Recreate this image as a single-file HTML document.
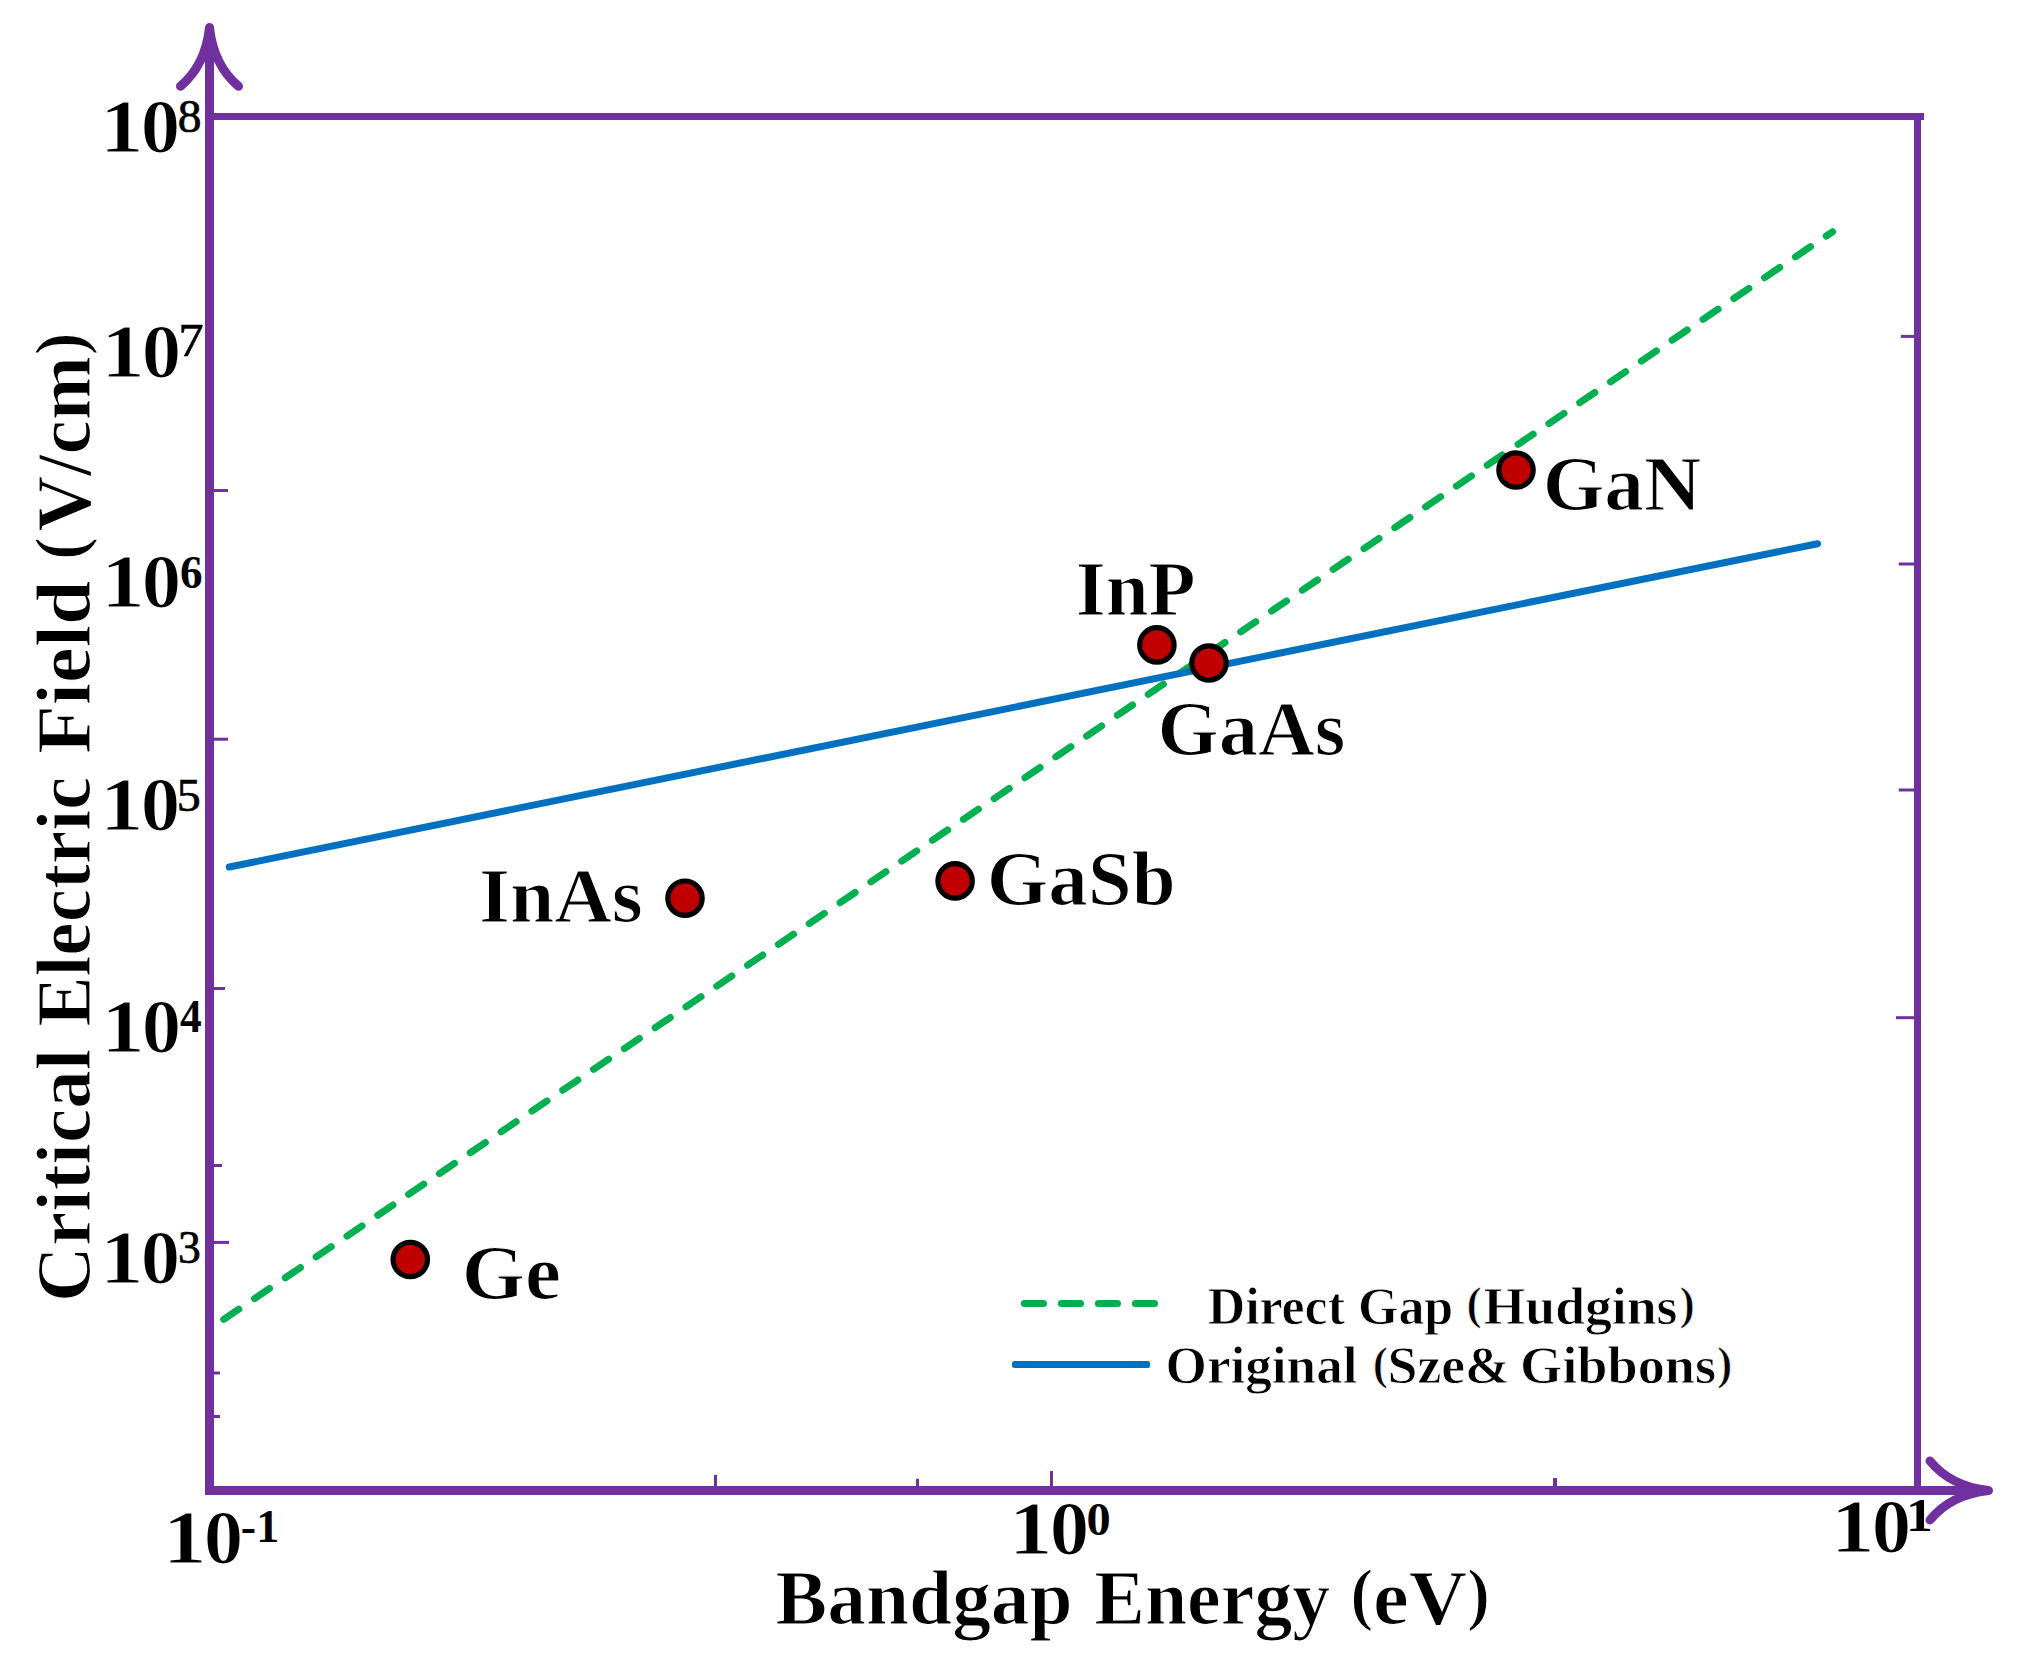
<!DOCTYPE html>
<html lang="en"><head><meta charset="utf-8"><title>Critical Electric Field vs Bandgap Energy</title>
<style>html,body{margin:0;padding:0;background:#fff}svg{display:block}text{font-family:"Liberation Serif","DejaVu Serif",serif;fill:#000}.b{font-weight:bold}.n{font-weight:normal}</style></head><body>
<svg width="2021" height="1664" viewBox="0 0 2021 1664">
<rect width="2021" height="1664" fill="#fff"/>
<g stroke="#7030A0" fill="none">
<line x1="209" y1="116.4" x2="1924" y2="116.4" stroke-width="7"/>
<line x1="1917.5" y1="116" x2="1917.5" y2="1490" stroke-width="7"/>
<line x1="209.5" y1="27.5" x2="209.5" y2="1495" stroke-width="9" stroke-linecap="butt"/>
<line x1="205" y1="1490.5" x2="1988.5" y2="1490.5" stroke-width="9"/>
<path d="M180.5 86.3 Q205.5 65 209.5 27.5 Q213.5 65 238.5 86.3" stroke-width="9" stroke-linecap="round" stroke-linejoin="round"/>
<path d="M1930 1461 Q1951 1486.5 1988.5 1490.5 Q1951 1494.5 1930 1520" stroke-width="9" stroke-linecap="round" stroke-linejoin="round"/>
<line x1="213" y1="490.5" x2="228" y2="490.5" stroke-width="3"/>
<line x1="213" y1="739.2" x2="228" y2="739.2" stroke-width="3"/>
<line x1="213" y1="988.5" x2="225" y2="988.5" stroke-width="3"/>
<line x1="213" y1="1165.5" x2="222" y2="1165.5" stroke-width="3"/>
<line x1="213" y1="1242.4" x2="229" y2="1242.4" stroke-width="3"/>
<line x1="213" y1="1373" x2="220" y2="1373" stroke-width="3"/>
<line x1="213" y1="1416.5" x2="220" y2="1416.5" stroke-width="3"/>
<line x1="1900.8" y1="336.4" x2="1915" y2="336.4" stroke-width="3"/>
<line x1="1898.7" y1="564" x2="1915" y2="564" stroke-width="3"/>
<line x1="1898.7" y1="790" x2="1915" y2="790" stroke-width="3"/>
<line x1="1896" y1="1017.7" x2="1915" y2="1017.7" stroke-width="3"/>
<line x1="715.5" y1="1474.9" x2="715.5" y2="1487" stroke-width="3"/>
<line x1="917.5" y1="1478.8" x2="917.5" y2="1487" stroke-width="3"/>
<line x1="1051.5" y1="1471" x2="1051.5" y2="1487" stroke-width="3"/>
<line x1="1555" y1="1478" x2="1555" y2="1487" stroke-width="4"/>
</g>
<line x1="223.7" y1="1319.4" x2="1832.5" y2="231.8" stroke="#00B050" stroke-width="7" stroke-linecap="round" stroke-dasharray="18.2 19"/>
<line x1="229.3" y1="867" x2="1817.5" y2="543.7" stroke="#0070C0" stroke-width="7" stroke-linecap="round"/>
<line x1="1024.4" y1="1303.4" x2="1154.6" y2="1303.4" stroke="#00B050" stroke-width="7" stroke-linecap="round" stroke-dasharray="19.1 17.9"/>
<rect x="1012" y="1360.9" width="138.1" height="7.1" rx="2.5" fill="#0070C0"/>
<circle cx="410.3" cy="1259.5" r="17.2" fill="#C00000" stroke="#000" stroke-width="5.2"/>
<circle cx="685" cy="898.2" r="17.2" fill="#C00000" stroke="#000" stroke-width="5.2"/>
<circle cx="955.1" cy="880.9" r="17.2" fill="#C00000" stroke="#000" stroke-width="5.2"/>
<circle cx="1156.9" cy="644.9" r="17.2" fill="#C00000" stroke="#000" stroke-width="5.2"/>
<circle cx="1209" cy="663" r="17.2" fill="#C00000" stroke="#000" stroke-width="5.2"/>
<circle cx="1516" cy="470" r="17.2" fill="#C00000" stroke="#000" stroke-width="5.2"/>
<text class="b" transform="translate(0,152.00)"><tspan x="99.88" y="0.00" font-size="76" textLength="43.84" lengthAdjust="spacingAndGlyphs" stroke="#fff" stroke-width="1.2">1</tspan><tspan x="140.79" y="0.00" font-size="76" textLength="39.42" lengthAdjust="spacingAndGlyphs" stroke="#fff" stroke-width="1.2">0</tspan><tspan x="177.88" y="-20.50" font-size="47" font-weight="normal" textLength="23.73" lengthAdjust="spacingAndGlyphs" stroke="#000" stroke-width="0.7">8</tspan></text>
<text class="b" transform="translate(0,377.00)"><tspan x="100.98" y="0.00" font-size="76" textLength="43.84" lengthAdjust="spacingAndGlyphs" stroke="#fff" stroke-width="1.2">1</tspan><tspan x="141.89" y="0.00" font-size="76" textLength="39.42" lengthAdjust="spacingAndGlyphs" stroke="#fff" stroke-width="1.2">0</tspan><tspan x="178.59" y="-21.00" font-size="47" font-weight="normal" textLength="25.11" lengthAdjust="spacingAndGlyphs" stroke="#000" stroke-width="0.7">7</tspan></text>
<text class="b" transform="translate(0,607.00)"><tspan x="100.98" y="0.00" font-size="76" textLength="43.84" lengthAdjust="spacingAndGlyphs" stroke="#fff" stroke-width="1.2">1</tspan><tspan x="141.89" y="0.00" font-size="76" textLength="39.42" lengthAdjust="spacingAndGlyphs" stroke="#fff" stroke-width="1.2">0</tspan><tspan x="180.08" y="-19.30" font-size="47" textLength="22.56" lengthAdjust="spacingAndGlyphs">6</tspan></text>
<text class="b" transform="translate(0,830.00)"><tspan x="99.88" y="0.00" font-size="76" textLength="43.84" lengthAdjust="spacingAndGlyphs" stroke="#fff" stroke-width="1.2">1</tspan><tspan x="140.79" y="0.00" font-size="76" textLength="39.42" lengthAdjust="spacingAndGlyphs" stroke="#fff" stroke-width="1.2">0</tspan><tspan x="176.84" y="-19.50" font-size="47" font-weight="normal" textLength="23.99" lengthAdjust="spacingAndGlyphs" stroke="#000" stroke-width="0.7">5</tspan></text>
<text class="b" transform="translate(0,1052.00)"><tspan x="100.98" y="0.00" font-size="76" textLength="43.84" lengthAdjust="spacingAndGlyphs" stroke="#fff" stroke-width="1.2">1</tspan><tspan x="141.89" y="0.00" font-size="76" textLength="39.42" lengthAdjust="spacingAndGlyphs" stroke="#fff" stroke-width="1.2">0</tspan><tspan x="179.98" y="-20.00" font-size="47" textLength="21.68" lengthAdjust="spacingAndGlyphs">4</tspan></text>
<text class="b" transform="translate(0,1283.00)"><tspan x="99.88" y="0.00" font-size="76" textLength="43.84" lengthAdjust="spacingAndGlyphs" stroke="#fff" stroke-width="1.2">1</tspan><tspan x="140.79" y="0.00" font-size="76" textLength="39.42" lengthAdjust="spacingAndGlyphs" stroke="#fff" stroke-width="1.2">0</tspan><tspan x="177.96" y="-20.50" font-size="47" font-weight="normal" textLength="22.80" lengthAdjust="spacingAndGlyphs" stroke="#000" stroke-width="0.7">3</tspan></text>
<text class="b" transform="translate(0,1563.00)"><tspan x="162.78" y="0.00" font-size="76" textLength="43.84" lengthAdjust="spacingAndGlyphs" stroke="#fff" stroke-width="1.2">1</tspan><tspan x="203.69" y="0.00" font-size="76" textLength="39.43" lengthAdjust="spacingAndGlyphs" stroke="#fff" stroke-width="1.2">0</tspan><tspan x="240.84" y="-21.00" font-size="47" textLength="38.37" lengthAdjust="spacingAndGlyphs">-1</tspan></text>
<text class="b" transform="translate(0,1553.80)"><tspan x="1008.88" y="0.00" font-size="76" textLength="43.84" lengthAdjust="spacingAndGlyphs" stroke="#fff" stroke-width="1.2">1</tspan><tspan x="1049.79" y="0.00" font-size="76" textLength="39.43" lengthAdjust="spacingAndGlyphs" stroke="#fff" stroke-width="1.2">0</tspan><tspan x="1086.64" y="-19.20" font-size="47" textLength="24.20" lengthAdjust="spacingAndGlyphs">0</tspan></text>
<text class="b" transform="translate(0,1552.00)"><tspan x="1830.78" y="0.00" font-size="76" textLength="43.84" lengthAdjust="spacingAndGlyphs" stroke="#fff" stroke-width="1.2">1</tspan><tspan x="1871.69" y="0.00" font-size="76" textLength="39.43" lengthAdjust="spacingAndGlyphs" stroke="#fff" stroke-width="1.2">0</tspan><tspan x="1906.11" y="-21.00" font-size="47" textLength="26.96" lengthAdjust="spacingAndGlyphs">1</tspan></text>
<text class="b" transform="translate(0,1298.60)"><tspan x="461.84" y="0.00" font-size="78" textLength="99.04" lengthAdjust="spacingAndGlyphs" stroke="#fff" stroke-width="1.2">Ge</tspan></text>
<text class="b" transform="translate(0,922.00)"><tspan x="478.94" y="0.00" font-size="78" textLength="163.84" lengthAdjust="spacingAndGlyphs" stroke="#fff" stroke-width="1.2">InAs</tspan></text>
<text class="b" transform="translate(0,904.80)"><tspan x="986.75" y="0.00" font-size="78" textLength="188.83" lengthAdjust="spacingAndGlyphs" stroke="#fff" stroke-width="1.2">GaSb</tspan></text>
<text class="b" transform="translate(0,614.90)"><tspan x="1075.84" y="0.00" font-size="78" textLength="119.82" lengthAdjust="spacingAndGlyphs" stroke="#fff" stroke-width="1.2">InP</tspan></text>
<text class="b" transform="translate(0,755.30)"><tspan x="1157.57" y="0.00" font-size="78" textLength="187.71" lengthAdjust="spacingAndGlyphs" stroke="#fff" stroke-width="1.2">GaAs</tspan></text>
<text class="b" transform="translate(0,510.10)"><tspan x="1542.74" y="0.00" font-size="78" textLength="158.38" lengthAdjust="spacingAndGlyphs" stroke="#fff" stroke-width="1.2">GaN</tspan></text>
<text class="b" transform="translate(0,1323.80)"><tspan x="1207.70" y="0.00" font-size="52" textLength="137.22" lengthAdjust="spacingAndGlyphs" stroke="#fff" stroke-width="0.8">Direct</tspan> <tspan x="1358.00" y="0.00" font-size="52" textLength="95.27" lengthAdjust="spacingAndGlyphs" stroke="#fff" stroke-width="0.8">Gap</tspan> <tspan x="1466.40" y="-4.50" font-size="46" stroke="#fff" stroke-width="0.8">(</tspan><tspan x="1483.57" y="0.00" font-size="52" textLength="193.95" lengthAdjust="spacingAndGlyphs" stroke="#fff" stroke-width="0.8">Hudgins</tspan><tspan x="1679.40" y="-4.50" font-size="46" stroke="#fff" stroke-width="0.8">)</tspan></text>
<text class="b" transform="translate(0,1383.20)"><tspan x="1165.63" y="0.00" font-size="52" textLength="191.88" lengthAdjust="spacingAndGlyphs" stroke="#fff" stroke-width="0.8">Original</tspan> <tspan x="1372.80" y="-4.50" font-size="46" stroke="#fff" stroke-width="0.8">(</tspan><tspan x="1387.50" y="0.00" font-size="52" textLength="122.39" lengthAdjust="spacingAndGlyphs" stroke="#fff" stroke-width="0.8">Sze&amp;</tspan> <tspan x="1520.07" y="0.00" font-size="52" textLength="196.06" lengthAdjust="spacingAndGlyphs" stroke="#fff" stroke-width="0.8">Gibbons</tspan><tspan x="1717.00" y="-4.50" font-size="46" stroke="#fff" stroke-width="0.8">)</tspan></text>
<text class="b" transform="translate(0,1624.00)"><tspan x="775.61" y="0.00" font-size="78" textLength="297.04" lengthAdjust="spacingAndGlyphs" stroke="#fff" stroke-width="1.2">Bandgap</tspan> <tspan x="1094.33" y="0.00" font-size="78" textLength="235.91" lengthAdjust="spacingAndGlyphs" stroke="#fff" stroke-width="1.2">Energy</tspan> <tspan x="1350.30" y="-7.00" font-size="69" stroke="#fff" stroke-width="1.2">(</tspan><tspan x="1372.99" y="0.00" font-size="78" textLength="94.19" lengthAdjust="spacingAndGlyphs" stroke="#fff" stroke-width="1.2">eV</tspan><tspan x="1467.00" y="-7.00" font-size="69" stroke="#fff" stroke-width="1.2">)</tspan></text>
<text class="b" transform="translate(90.30,0) rotate(-90)"><tspan x="-1301.96" y="0.00" font-size="78" textLength="253.31" lengthAdjust="spacingAndGlyphs" stroke="#fff" stroke-width="1.2">Critical</tspan> <tspan x="-1026.56" y="0.00" font-size="78" textLength="249.92" lengthAdjust="spacingAndGlyphs" stroke="#fff" stroke-width="1.2">Electric</tspan> <tspan x="-754.13" y="0.00" font-size="78" textLength="173.66" lengthAdjust="spacingAndGlyphs" stroke="#fff" stroke-width="1.2">Field</tspan> <tspan x="-560.00" y="-7.00" font-size="69" stroke="#fff" stroke-width="1.2">(</tspan><tspan x="-531.49" y="0.00" font-size="78" textLength="175.28" lengthAdjust="spacingAndGlyphs" stroke="#fff" stroke-width="1.2">V/cm</tspan><tspan x="-355.30" y="-7.00" font-size="69" stroke="#fff" stroke-width="1.2">)</tspan></text>
</svg></body></html>
